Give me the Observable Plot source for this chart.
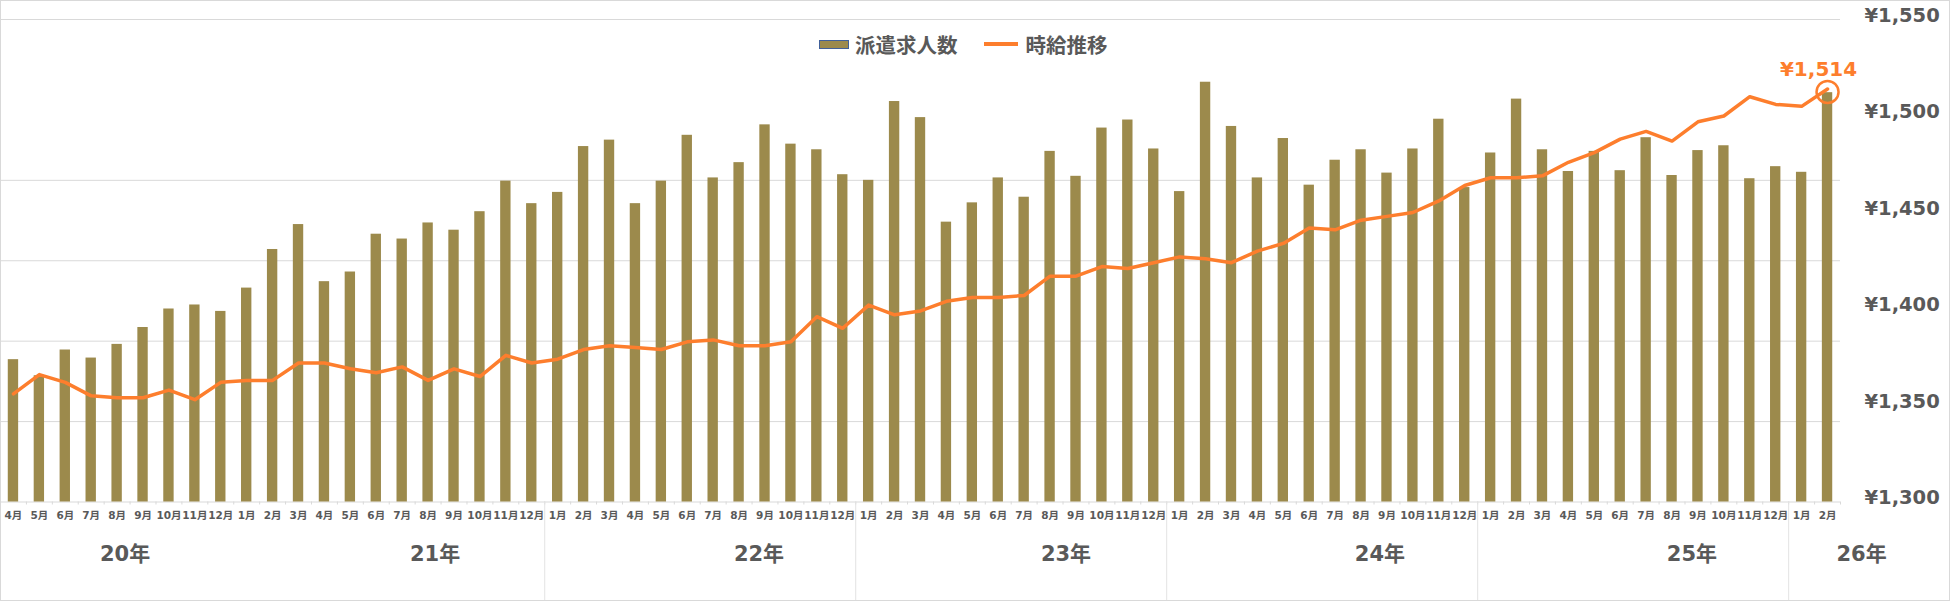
<!DOCTYPE html>
<html>
<head>
<meta charset="utf-8">
<script src="https://cdn.jsdelivr.net/npm/d3@7"></script>
<script src="https://cdn.jsdelivr.net/npm/@observablehq/plot@0.6"></script>
<style>
  body { margin: 0; background: #fff; }
  #wrap { position: relative; width: 1951px; height: 606px; overflow: hidden;
          font-family: 'DejaVu Sans', 'Noto Sans CJK JP', sans-serif; }
  #frame { position: absolute; left: 0; top: 0; width: 1950px; height: 601px;
           box-sizing: border-box; border: 1px solid #d9d9d9; pointer-events: none; }
  #chart { position: absolute; left: 0; top: 0; }
  #legend { position: absolute; top: 29px; left: 819px; display: flex; align-items: center;
            font-weight: bold; font-size: 20.5px; color: #595959; white-space: nowrap; }
  .sw-bar { width: 28px; height: 7px; background: #9c8a4c; border: 1px solid #41609a; margin-right: 6px; }
  .sw-line { width: 34px; height: 4px; background: #fd7e2d; margin-left: 26px; margin-right: 8px; }
</style>
</head>
<body>
<div id="wrap">
  <div id="chart"></div>
  <div id="legend"><span class="sw-bar"></span><span>派遣求人数</span><span class="sw-line"></span><span>時給推移</span></div>
  <div id="frame"></div>
</div>
<script>
// Months (year-month), April 2020 – February 2026
const months = [
  "2020-4","2020-5","2020-6","2020-7","2020-8","2020-9","2020-10","2020-11","2020-12",
  "2021-1","2021-2","2021-3","2021-4","2021-5","2021-6","2021-7","2021-8","2021-9","2021-10","2021-11","2021-12",
  "2022-1","2022-2","2022-3","2022-4","2022-5","2022-6","2022-7","2022-8","2022-9","2022-10","2022-11","2022-12",
  "2023-1","2023-2","2023-3","2023-4","2023-5","2023-6","2023-7","2023-8","2023-9","2023-10","2023-11","2023-12",
  "2024-1","2024-2","2024-3","2024-4","2024-5","2024-6","2024-7","2024-8","2024-9","2024-10","2024-11","2024-12",
  "2025-1","2025-2","2025-3","2025-4","2025-5","2025-6","2025-7","2025-8","2025-9","2025-10","2025-11","2025-12",
  "2026-1","2026-2"
];

// 派遣求人数 (relative index; hidden left axis, gridline unit = 1)
const jobs = [
  1.77, 1.57, 1.89, 1.79, 1.96, 2.17, 2.40, 2.45, 2.37,
  2.66, 3.14, 3.45, 2.74, 2.86, 3.33, 3.27, 3.47, 3.38, 3.61, 3.99, 3.71,
  3.85, 4.42, 4.50, 3.71, 3.99, 4.56, 4.03, 4.22, 4.69, 4.45, 4.38, 4.07,
  4.00, 4.98, 4.78, 3.48, 3.72, 4.03, 3.79, 4.36, 4.05, 4.65, 4.75, 4.39,
  3.86, 5.22, 4.67, 4.03, 4.52, 3.94, 4.25, 4.38, 4.09, 4.39, 4.76, 3.91,
  4.34, 5.01, 4.38, 4.11, 4.36, 4.12, 4.53, 4.06, 4.37, 4.43, 4.02, 4.17,
  4.10, 5.09
];

// 時給推移 (yen)
const wage = [
  1356, 1366, 1362, 1355, 1354, 1354, 1358, 1353, 1362,
  1363, 1363, 1372, 1372, 1369, 1367, 1370, 1363, 1369, 1365, 1376, 1372,
  1374, 1379, 1381, 1380, 1379, 1383, 1384, 1381, 1381, 1383, 1396, 1390,
  1402, 1397, 1399, 1404, 1406, 1406, 1407, 1417, 1417, 1422, 1421, 1424,
  1427, 1426, 1424, 1430, 1434, 1442, 1441, 1446, 1448, 1450, 1456, 1464,
  1468, 1468, 1469, 1476, 1481, 1488, 1492, 1487, 1497, 1500, 1510, 1506,
  1505, 1514
];

// Right axis ticks (yen)
const yenTicks = [1300, 1350, 1400, 1450, 1500, 1550];
// Hidden left axis: its domain and the gridlines it draws
const jobsDomain = [0, 6];
const jobsGrid = [1, 2, 3, 4, 6];

// Year labels and the month each sits under
const yearNames   = ["20年", "21年", "22年", "23年", "24年", "25年", "26年"];
const yearAnchors = ["2020-8", "2021-8", "2022-9", "2023-9", "2024-9", "2025-9", "2026-2"];
// Year separators (drawn before these months)
const yearBreaks = ["2022-1", "2023-1", "2024-1", "2025-1", "2026-1"];

// ---- layout / style ----
const W = 1951, H = 606;
const mL = 0, mR = 111, mT = 19, mB = 104.5;
const yearDx = [8, 7, -6, -10, -7, -6, 34];
const BAR = "#9c8a4c", ORANGE = "#fd7e2d", TEXT = "#595959", GRID = "#d9d9d9";
const FONT = "'DejaVu Sans', 'Noto Sans CJK JP', sans-serif";

const yMin = yenTicks[0], yMax = yenTicks[yenTicks.length - 1];
const jobsToYen = d3.scaleLinear(jobsDomain, [yMin, yMax]);
const pxToYen = (yMax - yMin) / (H - mT - mB);   // for extending rules below the axis
const tickEnd = yMin - 3 * pxToYen;
const sepEnd = yMin - 99 * pxToYen;

const data = months.map((m, i) => ({m, jobs: jobs[i], wage: wage[i]}));
const last = data[data.length - 1];
const step = (W - mL - mR) / months.length;
const yen = d3.format(",");

const yearMarks = yearNames.map((name, i) =>
  Plot.text([name], {
    x: () => yearAnchors[i], y: () => yMin, text: d => d,
    dx: yearDx[i], dy: 52, fontSize: 21, fontWeight: "bold", fill: TEXT
  })
);

const chart = Plot.plot({
  width: W, height: H,
  marginLeft: mL, marginRight: mR, marginTop: mT, marginBottom: mB,
  style: {fontFamily: FONT, background: "transparent", color: TEXT, overflow: "visible"},
  x: {type: "band", domain: months, paddingInner: 0.6, paddingOuter: 0.3, align: 0.5},
  y: {domain: [yMin, yMax]},
  marks: [
    Plot.ruleY(jobsGrid.map(jobsToYen), {stroke: GRID, strokeWidth: 1}),
    Plot.ruleY([yMin], {stroke: GRID, strokeWidth: 1.2}),
    Plot.ruleX(months, {x: d => d, y1: () => yMin, y2: () => tickEnd, dx: -step / 2, stroke: GRID}),
    Plot.ruleX([months[months.length - 1]], {x: d => d, y1: () => yMin, y2: () => tickEnd, dx: step / 2, stroke: GRID}),
    Plot.ruleX(yearBreaks, {x: d => d, y1: () => yMin, y2: () => sepEnd, dx: -step / 2, stroke: "#e3e3e3"}),
    Plot.barY(data, {x: "m", y1: () => yMin, y2: d => jobsToYen(d.jobs), fill: BAR}),
    Plot.line(data, {x: "m", y: "wage", stroke: ORANGE, strokeWidth: 3.5, strokeLinejoin: "round", strokeLinecap: "round"}),
    Plot.dot([last], {x: "m", y: "wage", r: 11, stroke: ORANGE, strokeWidth: 2.5, fill: "none", dy: 3}),
    Plot.text([last], {x: "m", y: "wage", text: d => "¥" + yen(d.wage), dx: -9, dy: -19,
      fill: ORANGE, fontSize: 20, fontWeight: "bold"}),
    Plot.axisX({tickSize: 0, tickPadding: 10, tickFormat: d => d.split("-")[1] + "月",
      fontSize: 10.5, fontWeight: "bold", fill: TEXT, label: null}),
    Plot.axisY({anchor: "right", ticks: yenTicks, tickSize: 0, tickPadding: 24,
      tickFormat: d => "¥" + yen(d), fontSize: 19.5, fontWeight: "bold", fill: TEXT, dy: -4, label: null}),
    ...yearMarks
  ]
});
document.getElementById("chart").appendChild(chart);
</script>
</body>
</html>
